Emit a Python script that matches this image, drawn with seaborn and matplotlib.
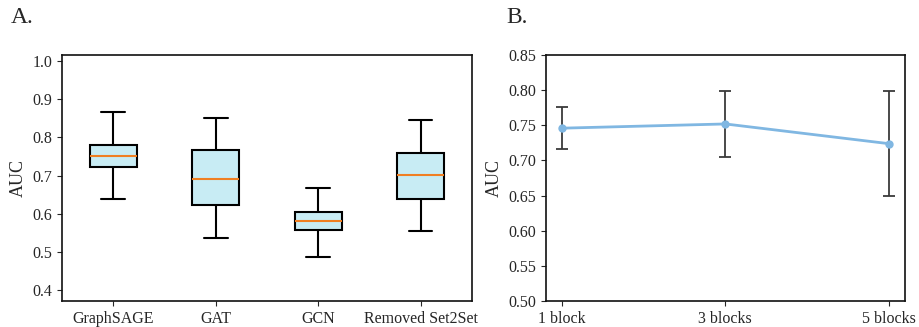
import numpy as np
import pandas as pd
import matplotlib
matplotlib.use("Agg")
import matplotlib.pyplot as plt
import seaborn as sns

# Panel A: five-number summaries (min, q1, median, q3, max)
models = ["GraphSAGE", "GAT", "GCN", "Removed Set2Set"]
auc_min = [0.638, 0.536, 0.487, 0.555]
auc_q1 = [0.722, 0.622, 0.557, 0.640]
auc_med = [0.752, 0.692, 0.582, 0.702]
auc_q3 = [0.780, 0.768, 0.604, 0.759]
auc_max = [0.867, 0.851, 0.668, 0.844]

# Panel B: mean AUC and error per number of blocks
blocks = ["1 block", "3 blocks", "5 blocks"]
block_auc = [0.746, 0.752, 0.724]
block_err = [0.030, 0.047, 0.075]

sns.set_style("ticks")
plt.rcParams["font.family"] = ["Liberation Serif", "DejaVu Serif"]
plt.rcParams["font.size"] = 12

# five values per model reproduce the summary exactly (whiskers at min/max)
rows = []
for i, m in enumerate(models):
    for v in (auc_min[i], auc_q1[i], auc_med[i], auc_q3[i], auc_max[i]):
        rows.append({"model": m, "AUC": v})
df = pd.DataFrame(rows)

fig = plt.figure(figsize=(9.19, 3.27), dpi=100)
ax1 = fig.add_axes([0.0675, 0.0795, 0.446, 0.752])
ax2 = fig.add_axes([0.594, 0.0795, 0.3906, 0.752])

sns.boxplot(data=df, x="model", y="AUC", ax=ax1, whis=(0, 100), width=0.46,
            color="#c8ecf4", saturation=1, linecolor="black", linewidth=1.5,
            showfliers=False, medianprops={"color": "#f07f22", "linewidth": 1.5})
ax1.set_ylim(0.372, 1.015)
ax1.set_yticks(np.arange(0.4, 1.01, 0.1))
ax1.set_xlabel("")
ax1.set_ylabel("AUC", fontsize=13)
ax1.tick_params(labelsize=11.5)

pos = np.arange(len(blocks))
ax2.errorbar(pos, block_auc, yerr=block_err, fmt="none", ecolor="#3a3a3a",
             elinewidth=1.3, capsize=4, capthick=1.3, zorder=1)
sns.lineplot(x=pos, y=block_auc, ax=ax2, color="#80b7e2", linewidth=2,
             marker="o", markersize=6, markeredgewidth=0, zorder=3)
ax2.set_xlim(-0.1, 2.1)
ax2.set_ylim(0.5, 0.85)
ax2.set_yticks(np.arange(0.5, 0.851, 0.05))
ax2.set_xticks(pos)
ax2.set_xticklabels(blocks)
ax2.set_ylabel("AUC", fontsize=13)
ax2.tick_params(labelsize=11.5)

for ax in (ax1, ax2):
    for s in ax.spines.values():
        s.set_linewidth(1.2)
        s.set_color("#111111")

fig.text(0.012, 0.93, "A.", fontsize=17)
fig.text(0.551, 0.93, "B.", fontsize=17)

fig.savefig("out.png", dpi=100)
